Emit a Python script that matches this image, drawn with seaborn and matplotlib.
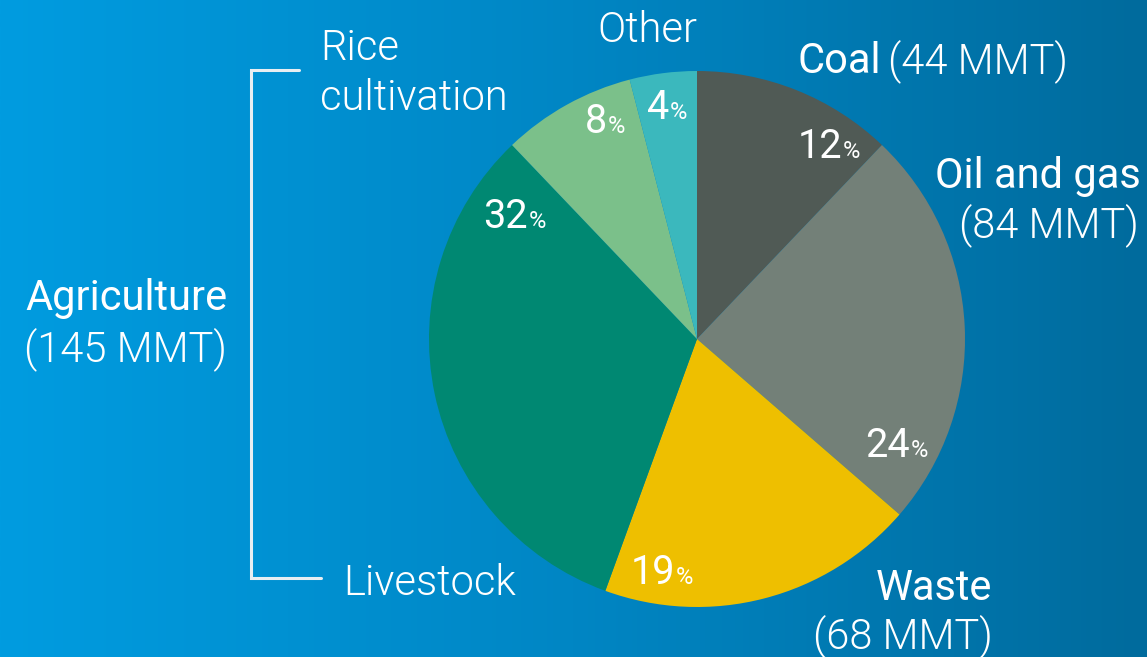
import numpy as np
import matplotlib
matplotlib.use("Agg")
import matplotlib.pyplot as plt
from matplotlib.colors import LinearSegmentedColormap
import seaborn as sns

# Methane emission shares by source (percent of total)
sectors = ["Coal", "Oil and gas", "Waste", "Livestock", "Rice cultivation", "Other"]
shares = [12, 24, 19, 32, 8, 4]
sector_colors = ["#505A55", "#738078", "#EEBF00", "#008872", "#7BC08A", "#3BB8BD"]

# Absolute emissions for the labelled groups (million metric tons)
group_names = ["Coal", "Oil and gas", "Waste", "Agriculture"]
group_mmt = [44, 84, 68, 145]

sns.set_theme(style="white")
plt.rcParams["font.family"] = ["Roboto", "DejaVu Sans"]

W, H = 1147, 657
fig = plt.figure(figsize=(W / 100, H / 100), dpi=100)
ax = fig.add_axes([0, 0, 1, 1])


def py(y):
    """Convert a top-down pixel row into the axes' bottom-up coordinate."""
    return H - y


# Horizontal blue gradient backdrop
bg = LinearSegmentedColormap.from_list("bg", ["#009CE0", "#0086C4", "#006B9D"])
grad = np.linspace(0, 1, 512)[None, :]
ax.imshow(grad, cmap=bg, extent=(0, W, 0, H), aspect="auto", zorder=0,
          interpolation="bicubic")

# Pie, clockwise from twelve o'clock
ax.pie(shares, colors=sector_colors, startangle=90, counterclock=False,
       center=(697, py(339)), radius=268, frame=True,
       wedgeprops=dict(linewidth=0, zorder=2))

ax.set_xlim(0, W)
ax.set_ylim(0, H)
ax.set_aspect("equal")
ax.axis("off")

white = "white"
NAME = 30
PCT = 28.5
SIGN = 17
REG = 400
LIGHT = 300

# Percentage labels: number followed by a smaller percent sign
pct_pos = {
    "Coal": (842, 158),
    "Oil and gas": (910, 457),
    "Waste": (675, 584),
    "Livestock": (528, 228),
    "Rice cultivation": (607, 133),
    "Other": (669, 119),
}
for name, val in zip(sectors, shares):
    x, y = pct_pos[name]
    ax.text(x, py(y), f"{val}", color=white, fontsize=PCT, fontweight=REG,
            ha="right", va="baseline", zorder=5)
    ax.text(x + 1, py(y), "%", color=white, fontsize=SIGN, fontweight=REG,
            ha="left", va="baseline", zorder=5)

mmt = dict(zip(group_names, group_mmt))

# Coal
ax.text(797, py(73), "Coal", color=white, fontsize=NAME, fontweight=REG,
        ha="left", va="baseline")
ax.text(888, py(73), f"({mmt['Coal']} MMT)", color=white, fontsize=NAME,
        fontweight=LIGHT, ha="left", va="baseline")

# Oil and gas
ax.text(1141, py(188), "Oil and gas", color=white, fontsize=NAME, fontweight=REG,
        ha="right", va="baseline")
ax.text(1139, py(237), f"({mmt['Oil and gas']} MMT)", color=white, fontsize=NAME,
        fontweight=LIGHT, ha="right", va="baseline")

# Waste
ax.text(992, py(600), "Waste", color=white, fontsize=NAME, fontweight=REG,
        ha="right", va="baseline")
ax.text(993, py(648), f"({mmt['Waste']} MMT)", color=white, fontsize=NAME,
        fontweight=LIGHT, ha="right", va="baseline")

# Agriculture group with bracket
ax.text(228, py(310), "Agriculture", color=white, fontsize=NAME, fontweight=REG,
        ha="right", va="baseline")
ax.text(227, py(361), f"({mmt['Agriculture']} MMT)", color=white, fontsize=NAME,
        fontweight=LIGHT, ha="right", va="baseline")
ax.plot([299, 251, 251, 321], [py(70), py(70), py(578), py(578)],
        color="#E8EEF2", lw=2.2, solid_joinstyle="miter", zorder=3)

ax.text(320, py(60), "Rice", color=white, fontsize=NAME, fontweight=LIGHT,
        ha="left", va="baseline")
ax.text(320, py(110), "cultivation", color=white, fontsize=NAME,
        fontweight=LIGHT, ha="left", va="baseline")
ax.text(343, py(595), "Livestock", color=white, fontsize=NAME, fontweight=LIGHT,
        ha="left", va="baseline")
ax.text(647, py(42), "Other", color=white, fontsize=NAME, fontweight=LIGHT,
        ha="center", va="baseline")

fig.savefig("out.png", dpi=100)
